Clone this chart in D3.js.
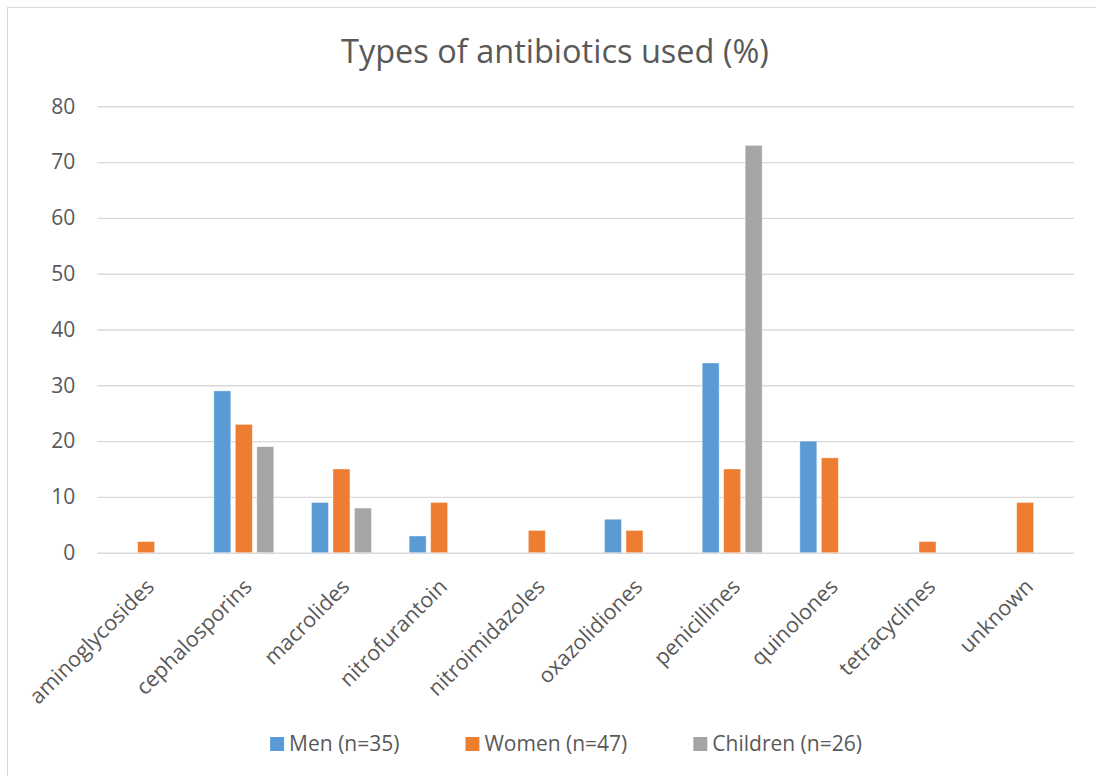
<!DOCTYPE html>
<html>
<head>
<meta charset="utf-8">
<script src="https://cdn.jsdelivr.net/npm/d3@7"></script>
<style>
  html, body { margin: 0; padding: 0; background: #fff; }
  svg { display: block; font-family: "Open Sans", "Liberation Sans", sans-serif; }
</style>
</head>
<body>
<svg id="chart" width="1096" height="776"></svg>
<script>
const categories = ["aminoglycosides", "cephalosporins", "macrolides", "nitrofurantoin",
  "nitroimidazoles", "oxazolidiones", "penicillines", "quinolones", "tetracyclines", "unknown"];
const seriesNames = ["Men (n=35)", "Women (n=47)", "Children (n=26)"];
const men      = [0, 29, 9, 3, 0, 6, 34, 20, 0, 0];
const women    = [2, 23, 15, 9, 4, 4, 15, 17, 2, 9];
const children = [0, 19, 8, 0, 0, 0, 73, 0, 0, 0];
const yTicks = [0, 10, 20, 30, 40, 50, 60, 70, 80];
const titleText = "Types of antibiotics used (%)";
const colors = ["#5B9BD5", "#ED7D31", "#A5A5A5"];

const seriesValues = [men, women, children];
const data = categories.map((c, i) => ({
  cat: c,
  vals: seriesNames.map((s, j) => ({ s, v: seriesValues[j][i] }))
}));

const svg = d3.select("#chart");
const plotLeft = 97.3, plotRight = 1074, plotTop = 106.3, plotBottom = 552.7;
const textColor = "#595959";

// outer border
svg.append("rect").attr("x", 7.5).attr("y", 7.5).attr("width", 1200).attr("height", 900)
  .attr("fill", "#fff").attr("stroke", "#D9D9D9").attr("stroke-width", 1);

const x0 = d3.scaleBand().domain(categories).range([plotLeft, plotRight]).padding(0);
const groupW = x0.bandwidth() * 0.614;
const x1 = d3.scaleBand().domain(seriesNames).range([0, groupW]).paddingInner(0.21).paddingOuter(0);
const y = d3.scaleLinear().domain([0, 80]).range([plotBottom, plotTop]);
const color = d3.scaleOrdinal().domain(seriesNames).range(colors);

// title
svg.append("text").attr("x", 555).attr("y", 63).attr("text-anchor", "middle")
  .attr("fill", textColor).attr("font-size", 32.5).text(titleText);

// gridlines + y labels
const yAxis = d3.axisLeft(y).tickValues(yTicks).tickSize(-(plotRight - plotLeft)).tickPadding(22);
const gy = svg.append("g").attr("transform", `translate(${plotLeft},0)`).call(yAxis);
gy.select(".domain").remove();
gy.selectAll(".tick line").attr("stroke", "#D9D9D9").attr("stroke-width", 1.4);
gy.selectAll(".tick text").attr("fill", textColor).attr("font-size", 21)
  .attr("font-family", "'Open Sans', sans-serif");

// bars
const groups = svg.append("g").selectAll("g").data(data).join("g")
  .attr("transform", d => `translate(${x0(d.cat) + (x0.bandwidth() - groupW) / 2},0)`);
groups.selectAll("rect").data(d => d.vals.filter(v => v.v > 0)).join("rect")
  .attr("x", d => x1(d.s))
  .attr("width", x1.bandwidth())
  .attr("y", d => y(d.v))
  .attr("height", d => y(0) - y(d.v))
  .attr("fill", d => color(d.s))
  .attr("stroke", "#fff").attr("stroke-opacity", 0.5).attr("stroke-width", 0.8);

// x axis labels
const xAxis = d3.axisBottom(x0).tickSize(0).tickPadding(0);
const gx = svg.append("g").attr("transform", `translate(0,${plotBottom})`).call(xAxis);
gx.select(".domain").remove();
gx.selectAll(".tick text")
  .attr("fill", textColor).attr("font-size", 21.5)
  .attr("font-family", "'Open Sans', sans-serif")
  .attr("text-anchor", "end")
  .attr("dy", "0.35em")
  .attr("transform", "translate(4,30) rotate(-45)");

// legend
const legendFont = 21;
const lg = svg.append("g");
const items = lg.selectAll("g").data(seriesNames).join("g");
items.append("rect").attr("width", 14).attr("height", 14).attr("y", -7)
  .attr("fill", d => color(d));
items.append("text").attr("x", 19).attr("dy", "0.35em")
  .attr("fill", textColor).attr("font-size", legendFont).text(d => d);
let xpos = 0;
const gapItems = 66;
items.each(function () {
  const g = d3.select(this);
  g.attr("transform", `translate(${xpos},0)`);
  const tw = g.select("text").node().getComputedTextLength();
  xpos += 19 + tw + gapItems;
});
const totalW = xpos - gapItems;
lg.attr("transform", `translate(${566 - totalW / 2},744)`);
</script>
</body>
</html>
